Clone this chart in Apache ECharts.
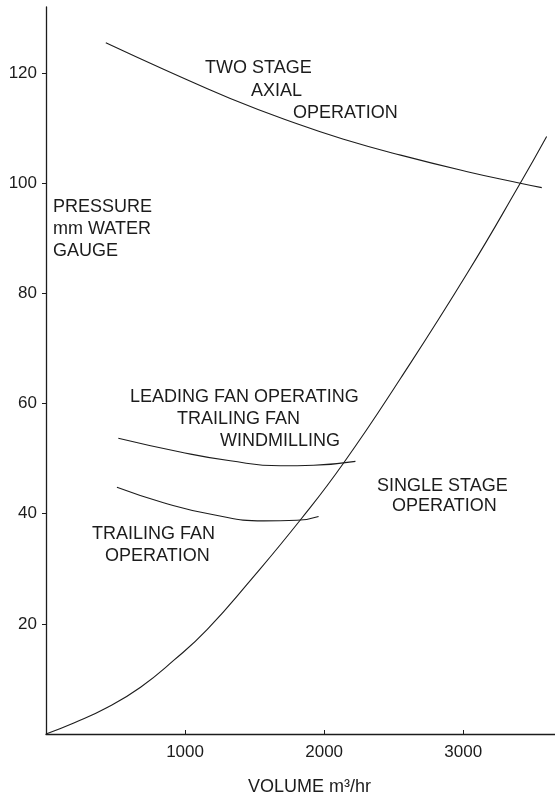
<!DOCTYPE html>
<html>
<head>
<meta charset="utf-8">
<script src="https://cdn.jsdelivr.net/npm/echarts@6/dist/echarts.min.js"></script>
<style>
  html, body { margin: 0; padding: 0; background: #fff; }
  #chart { width: 555px; height: 801px; }
</style>
</head>
<body>
<div id="chart"></div>
<script>
// tick labels
var xTicks = [1000, 2000, 3000];
var yTicks = [20, 40, 60, 80, 100, 120];

// curves: [volume m3/hr, pressure mm]
var singleStage = [[0, 0], [200, 2.0], [440, 4.8], [680, 8.5], [920, 13.4], [1160, 19.0], [1470, 27.9],
    [1830, 38.9], [2140, 49.2], [2550, 64.6], [3030, 83.7], [3410, 100], [3600, 108.5]];
var twoStage = [[430, 125.5], [845, 120.7], [1325, 115.4], [1805, 110.8], [2140, 108.0],
    [2550, 105.1], [3030, 102.1], [3410, 100], [3565, 99.2]];
var leadingFan = [[520, 53.7], [965, 51.2], [1325, 49.6], [1685, 48.7], [1925, 48.8], [2225, 49.5]];
var trailingFan = [[510, 44.8], [845, 42.0], [1205, 39.8], [1565, 38.7], [1805, 38.8], [1960, 39.5]];

var FONT = 'Liberation Sans, Arial, Helvetica, sans-serif';
var INK = '#1c1c1c';

function curve(name, data) {
    return {
        name: name,
        type: 'line',
        data: data,
        smooth: true,
        showSymbol: false,
        silent: true,
        lineStyle: { color: INK, width: 1.1 },
        animation: false
    };
}

// text annotations (left edge, middle y)
function note(text, x, y) {
    return {
        type: 'text',
        left: x,
        top: y - 10,
        style: { text: text, fill: INK, font: '18px ' + FONT }
    };
}

var myChart = echarts.init(document.getElementById('chart'));
var option = {
    backgroundColor: '#fff',
    animation: false,
    grid: { left: 46, right: 0, top: 7, bottom: 67 },
    xAxis: {
        type: 'value',
        min: 0,
        max: 3660,
        splitLine: { show: false },
        axisLine: { show: true, onZero: false, lineStyle: { color: INK, width: 1.3 } },
        axisTick: { show: true, inside: true, length: 4, customValues: xTicks, lineStyle: { color: INK } },
        axisLabel: {
            customValues: xTicks, color: INK, fontSize: 17, fontFamily: FONT, margin: 10,
            formatter: function (v) { return String(v); }
        }
    },
    yAxis: {
        type: 'value',
        min: 0,
        max: 132,
        splitLine: { show: false },
        axisLine: { show: true, lineStyle: { color: INK, width: 1.3 } },
        axisTick: { show: true, length: 4, customValues: yTicks, lineStyle: { color: INK } },
        axisLabel: { customValues: yTicks, color: INK, fontSize: 17, fontFamily: FONT, margin: 9 }
    },
    graphic: [
        note('TWO STAGE', 205, 69),
        note('AXIAL', 251, 92),
        note('OPERATION', 293, 114),
        note('PRESSURE', 53, 208),
        note('mm WATER', 53, 230),
        note('GAUGE', 53, 252),
        note('LEADING FAN OPERATING', 130, 398),
        note('TRAILING FAN', 177, 420),
        note('WINDMILLING', 220, 442),
        note('TRAILING FAN', 92, 535),
        note('OPERATION', 105, 557),
        note('SINGLE STAGE', 377, 487),
        note('OPERATION', 392, 507),
        note('VOLUME m\u00B3/hr', 248, 788)
    ],
    series: [
        curve('Single stage operation', singleStage),
        curve('Two stage axial operation', twoStage),
        curve('Leading fan operating, trailing fan windmilling', leadingFan),
        curve('Trailing fan operation', trailingFan)
    ]
};
myChart.setOption(option);
</script>
</body>
</html>
